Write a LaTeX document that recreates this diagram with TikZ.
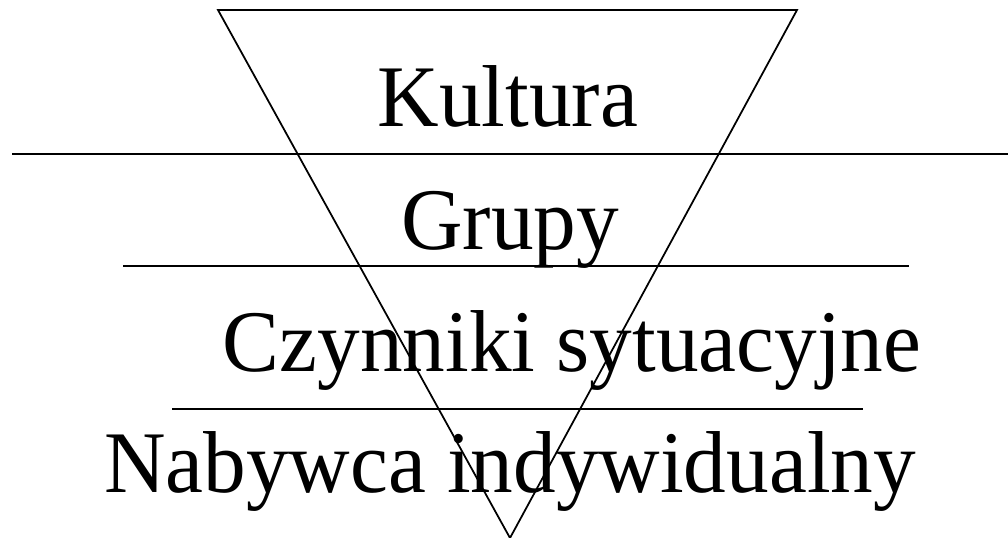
\documentclass[tikz,border=0pt]{standalone}
\usepackage{fontspec}
\setmainfont{Liberation Serif}
\usetikzlibrary{positioning}
\tikzset{
  poziom/.style={font=\fontsize{50}{50}\selectfont, inner sep=0pt, anchor=base, xscale=0.97},
  linia/.style={line width=1.4pt},
  trojkat/.style={line width=1pt, line join=miter}
}

\begin{document}
\begin{tikzpicture}[x=0.2mm, y=-0.2mm]
  \useasboundingbox (0,0) rectangle (1008,538);

  % Trojkat odwrocony
  \coordinate (t1) at (218,10);
  \coordinate (t2) at (797,10);
  \coordinate (t3) at (510,538);
  \draw[trojkat] (t1) -- (t2) -- (t3) -- cycle;

  % Linie poziomow
  \coordinate (l1a) at (12,154);  \coordinate (l1b) at (1008,154);
  \coordinate (l2a) at (123,266); \coordinate (l2b) at (909,266);
  \coordinate (l3a) at (172,409); \coordinate (l3b) at (863,409);
  \draw[linia] (l1a) -- (l1b);
  \draw[linia] (l2a) -- (l2b);
  \draw[linia] (l3a) -- (l3b);

  % Poziomy
  \node[poziom] (kultura) at (508,127) {Kultura};
  \node[poziom] (grupy) at (510,250) {Grupy};
  \node[poziom] (czynniki) at (572,372) {Czynniki sytuacyjne};
  \node[poziom] (nabywca) at (510,493) {Nabywca indywidualny};
\end{tikzpicture}
\end{document}
